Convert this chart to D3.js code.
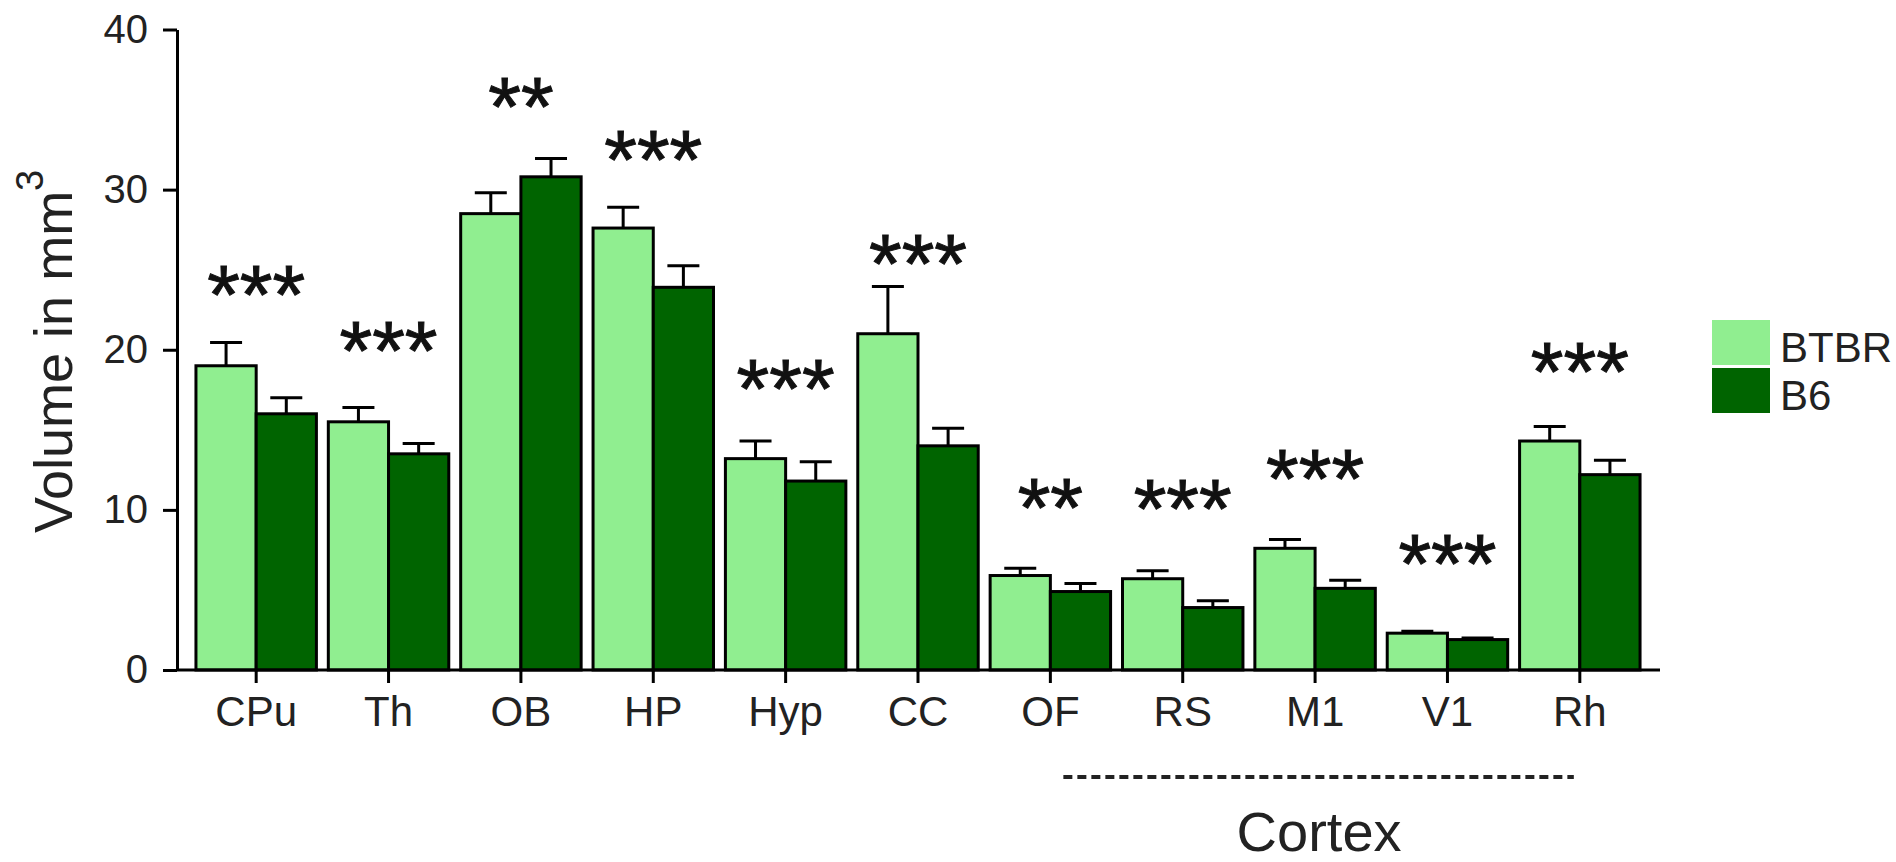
<!DOCTYPE html>
<html>
<head>
<meta charset="utf-8">
<script src="https://cdn.jsdelivr.net/npm/d3@7"></script>
<style>
  html, body { margin: 0; padding: 0; background: #fff; }
  svg { display: block; font-family: "Liberation Sans", Arial, Helvetica, sans-serif; }
</style>
</head>
<body>
<svg id="chart" width="1896" height="862"></svg>
<script>
// ---- data ----
const categories = ["CPu", "Th", "OB", "HP", "Hyp", "CC", "OF", "RS", "M1", "V1", "Rh"];
const seriesNames = ["BTBR", "B6"];
const btbrValues = [19.0, 15.5, 28.5, 27.6, 13.2, 21.0, 5.9, 5.7, 7.6, 2.3, 14.3];
const btbrErrors = [1.45, 0.9, 1.3, 1.3, 1.1, 2.95, 0.45, 0.5, 0.55, 0.12, 0.9];
const b6Values = [16.0, 13.5, 30.8, 23.9, 11.8, 14.0, 4.9, 3.9, 5.1, 1.9, 12.2];
const b6Errors = [1.0, 0.65, 1.15, 1.35, 1.2, 1.1, 0.5, 0.42, 0.5, 0.1, 0.9];
const significance = ["***", "***", "**", "***", "***", "***", "**", "***", "***", "***", "***"];
const starLevels = [24.2, 20.7, 35.9, 32.6, 18.3, 26.1, 10.9, 10.8, 12.7, 7.4, 19.4];
const yTicks = [0, 10, 20, 30, 40];
const yTitle = "Volume in mm";
const yTitleSup = "3";
const cortexLabel = "Cortex";
const cortexRange = ["OF", "Rh"];

const colors = { BTBR: "#90EE90", B6: "#006400" };

// ---- layout ----
const svg = d3.select("#chart");
const axisX = 177;
const y = d3.scaleLinear().domain([0, 40]).range([670, 29.5]);
const x = d3.scaleBand().domain(categories).range([190, 1646]).paddingInner(0.09).paddingOuter(0.045);
const xs = d3.scaleBand().domain(seriesNames).range([0, x.bandwidth()]);

const rows = categories.map((c, i) => ({
  cat: c,
  bars: [
    { s: "BTBR", v: btbrValues[i], e: btbrErrors[i] },
    { s: "B6", v: b6Values[i], e: b6Errors[i] }
  ],
  sig: significance[i],
  star: starLevels[i]
}));

// bars
const g = svg.append("g");
const groups = g.selectAll("g.grp").data(rows).join("g")
  .attr("class", "grp")
  .attr("transform", d => `translate(${x(d.cat)},0)`);

groups.selectAll("rect").data(d => d.bars).join("rect")
  .attr("x", d => xs(d.s))
  .attr("y", d => y(d.v))
  .attr("width", xs.bandwidth())
  .attr("height", d => y(0) - y(d.v))
  .attr("fill", d => colors[d.s])
  .attr("stroke", "#000")
  .attr("stroke-width", 3);

// error bars (upper only)
const capW = 32;
groups.selectAll("path.err").data(d => d.bars).join("path")
  .attr("class", "err")
  .attr("d", d => {
    const cx = xs(d.s) + xs.bandwidth() / 2;
    const top = y(d.v + d.e);
    return `M${cx},${y(d.v)}V${top}M${cx - capW / 2},${top}H${cx + capW / 2}`;
  })
  .attr("fill", "none")
  .attr("stroke", "#000")
  .attr("stroke-width", 3);

// significance stars
const starSize = 84;
groups.append("text")
  .attr("x", x.bandwidth() / 2)
  .attr("y", d => y(d.star) + starSize * 0.49)
  .attr("text-anchor", "middle")
  .attr("font-size", starSize)
  .attr("fill", "#111")
  .attr("stroke", "#111")
  .attr("stroke-width", 1)
  .text(d => d.sig);

// y axis
const yAxis = svg.append("g")
  .attr("transform", `translate(${axisX},0)`)
  .call(d3.axisLeft(y).tickValues(yTicks).tickSize(14).tickPadding(15).tickSizeOuter(0));
yAxis.selectAll("path, line").attr("stroke", "#000").attr("stroke-width", 3);
yAxis.selectAll("text").attr("font-size", 40).attr("fill", "#222")
  .attr("font-family", "'Liberation Sans', Arial, sans-serif");

// x axis
const xAxis = svg.append("g")
  .attr("transform", `translate(0,${y(0)})`)
  .call(d3.axisBottom(x).tickSize(13).tickPadding(13).tickSizeOuter(0));
xAxis.select(".domain").remove();
xAxis.append("line")
  .attr("x1", axisX).attr("x2", x.range()[1] + 14)
  .attr("y1", 0).attr("y2", 0)
  .attr("stroke", "#000").attr("stroke-width", 3);
xAxis.selectAll(".tick line").attr("stroke", "#000").attr("stroke-width", 3);
xAxis.selectAll("text").attr("font-size", 42).attr("fill", "#222")
  .attr("font-family", "'Liberation Sans', Arial, sans-serif");

// y axis title
const yt = svg.append("text")
  .attr("transform", `translate(72,533) rotate(-90)`)
  .attr("text-anchor", "start")
  .attr("font-size", 54)
  .attr("fill", "#222");
yt.append("tspan").text(yTitle);
yt.append("tspan").attr("dy", -29).attr("font-size", 38).text(yTitleSup);

// legend
const legend = svg.append("g").attr("transform", "translate(1712,320)");
const li = legend.selectAll("g").data(seriesNames).join("g")
  .attr("transform", (d, i) => `translate(0,${i * 48})`);
li.append("rect").attr("width", 58).attr("height", 45).attr("fill", d => colors[d]);
li.append("text").attr("x", 68).attr("y", 42).attr("font-size", 42).attr("fill", "#222").text(d => d);

// cortex bracket
const cx1 = x(cortexRange[0]) + x.bandwidth() / 2 + 13;
const cx2 = x(cortexRange[1]) + x.bandwidth() / 2 - 6;
svg.append("line")
  .attr("x1", cx1).attr("x2", cx2)
  .attr("y1", 777).attr("y2", 777)
  .attr("stroke", "#222").attr("stroke-width", 4)
  .attr("stroke-dasharray", "9,5");
svg.append("text")
  .attr("x", (x(cortexRange[0]) + x(cortexRange[1]) + x.bandwidth()) / 2 + 4)
  .attr("y", 851)
  .attr("text-anchor", "middle")
  .attr("font-size", 56)
  .attr("fill", "#222")
  .text(cortexLabel);
</script>
</body>
</html>
